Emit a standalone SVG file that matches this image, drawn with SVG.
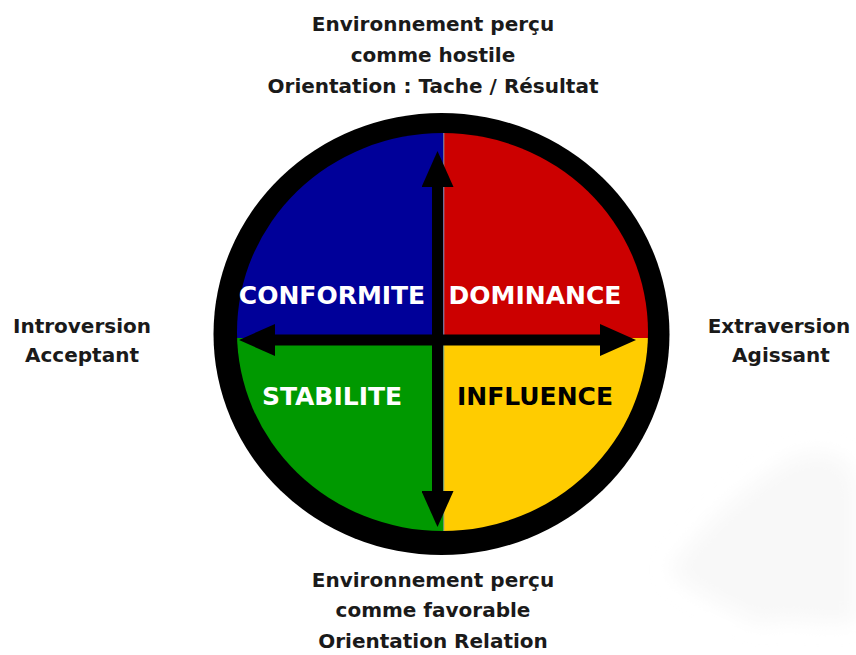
<svg xmlns="http://www.w3.org/2000/svg" width="856" height="655" viewBox="0 0 856 655">
  <style>
    .lbl { font-family: "DejaVu Sans", "Liberation Sans", sans-serif; font-weight: bold; font-size: 20px; fill: #1a1a1a; text-anchor: middle; }
    .q { font-family: "DejaVu Sans", "Liberation Sans", sans-serif; font-weight: bold; font-size: 25px; text-anchor: middle; }
    .shaft { stroke: #000; stroke-width: 11; fill: none; }
  </style>
  <defs>
    <clipPath id="inner">
      <ellipse cx="442.5" cy="332" rx="205.5" ry="199"/>
    </clipPath>
    <marker id="head" viewBox="0 0 36 32" refX="2" refY="16" markerWidth="36" markerHeight="32" markerUnits="userSpaceOnUse" orient="auto-start-reverse">
      <path d="M0,0 L36,16 L0,32 Z" fill="#000"/>
    </marker>
    <filter id="blur" x="-20%" y="-20%" width="140%" height="140%">
      <feGaussianBlur stdDeviation="10"/>
    </filter>
  </defs>
  <rect width="856" height="655" fill="#fff"/>
  <path d="M670,570 C700,530 740,490 790,460 C820,445 856,455 856,490 L856,620 C820,630 790,612 760,625 C730,605 700,600 670,570 Z" fill="#f8f8f8" filter="url(#blur)"/>

  <g id="disc">
    <ellipse cx="441.5" cy="334" rx="228" ry="221" fill="#000"/>
    <g clip-path="url(#inner)">
      <rect x="230" y="120" width="215" height="218" fill="#000099"/>
      <rect x="444" y="120" width="211" height="218" fill="#cc0000"/>
      <rect x="230" y="338" width="214" height="200" fill="#009900"/>
      <rect x="444" y="338" width="211" height="200" fill="#ffcc00"/>
      <line x1="443.8" y1="120" x2="443.8" y2="540" stroke="#9a9a9a" stroke-width="1"/>
    </g>
  </g>

  <g id="connectors">
    <line class="shaft" x1="273" y1="340" x2="602" y2="340" marker-start="url(#head)" marker-end="url(#head)"/>
    <line class="shaft" x1="437.5" y1="185" x2="437.5" y2="493" marker-start="url(#head)" marker-end="url(#head)"/>
  </g>

  <g id="conformite"><text class="q" x="332" y="304" fill="#fff">CONFORMITE</text></g>
  <g id="dominance"><text class="q" x="535" y="304" fill="#fff">DOMINANCE</text></g>
  <g id="stabilite"><text class="q" x="332" y="405" fill="#fff">STABILITE</text></g>
  <g id="influence"><text class="q" x="535" y="405" fill="#000">INFLUENCE</text></g>

  <g id="top-label">
    <text class="lbl" x="433" y="31">Environnement perçu</text>
    <text class="lbl" x="433" y="62">comme hostile</text>
    <text class="lbl" x="433" y="93">Orientation : Tache / Résultat</text>
  </g>
  <g id="bottom-label">
    <text class="lbl" x="433" y="587">Environnement perçu</text>
    <text class="lbl" x="433" y="617">comme favorable</text>
    <text class="lbl" x="433" y="648">Orientation Relation</text>
  </g>
  <g id="left-label">
    <text class="lbl" x="82" y="333">Introversion</text>
    <text class="lbl" x="82" y="362">Acceptant</text>
  </g>
  <g id="right-label">
    <text class="lbl" x="779" y="333">Extraversion</text>
    <text class="lbl" x="781" y="362">Agissant</text>
  </g>
</svg>
